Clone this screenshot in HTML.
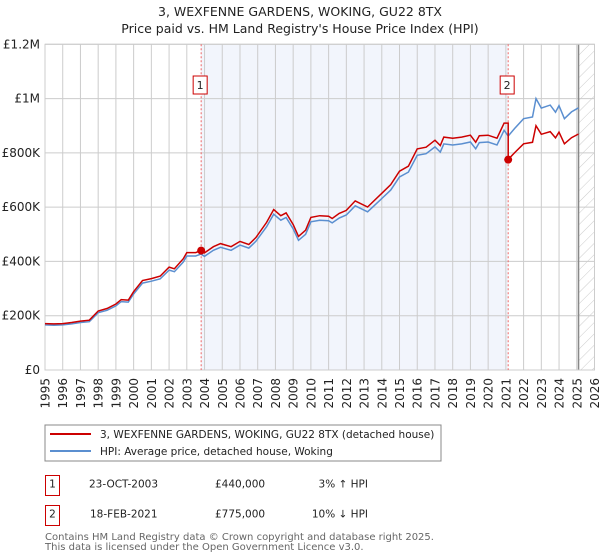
<!DOCTYPE html>
<html><head><meta charset="utf-8"><style>
body{margin:0;background:#fff;font-family:"Liberation Sans","DejaVu Sans",sans-serif;}
svg{display:block}
</style></head><body>
<svg id="chart" width="600" height="560" viewBox="0 0 600 560" font-family="DejaVu Sans, Liberation Sans, sans-serif">
<text x="300" y="16" text-anchor="middle" font-size="12.5" fill="#222">3, WEXFENNE GARDENS, WOKING, GU22 8TX</text>
<text x="300" y="33" text-anchor="middle" font-size="12.5" fill="#222">Price paid vs. HM Land Registry's House Price Index (HPI)</text>
<defs><pattern id="hatch" width="8" height="8" patternUnits="userSpaceOnUse" patternTransform="rotate(45)"><line x1="0" y1="0" x2="0" y2="8" stroke="#ccc" stroke-width="1"/></pattern></defs>
<g id="plot"></g>
<g id="legend">
<rect x="45" y="425" width="396" height="36" fill="#fff" stroke="#888" stroke-width="1"/>
<line x1="50" y1="434" x2="91" y2="434" stroke="#cc0000" stroke-width="2"/>
<text x="100" y="438" font-size="10.5" fill="#222">3, WEXFENNE GARDENS, WOKING, GU22 8TX (detached house)</text>
<line x1="50" y1="451" x2="91" y2="451" stroke="#5b8fd0" stroke-width="2"/>
<text x="100" y="455" font-size="10.5" fill="#222">HPI: Average price, detached house, Woking</text>
</g>
<g font-size="10.5" fill="#222">
<rect x="45.5" y="475.5" width="14" height="20" fill="#fff" stroke="#c00"/>
<text x="52.5" y="487.5" text-anchor="middle">1</text>
<text x="89" y="487.5">23-OCT-2003</text><text x="215" y="487.5">£440,000</text><text x="368" y="487.5" text-anchor="end">3% ↑ HPI</text>
<rect x="45.5" y="505.5" width="14" height="20" fill="#fff" stroke="#c00"/>
<text x="52.5" y="517.5" text-anchor="middle">2</text>
<text x="90" y="517.5">18-FEB-2021</text><text x="215" y="517.5">£775,000</text><text x="368" y="517.5" text-anchor="end">10% ↓ HPI</text>
</g>
<text x="45" y="540" font-size="10" fill="#666">Contains HM Land Registry data © Crown copyright and database right 2025.</text>
<text x="45" y="550" font-size="10" fill="#666">This data is licensed under the Open Government Licence v3.0.</text>
</svg>
<script>
const hpiYears=[1995,1995.5,1996,1996.5,1997,1997.5,1998,1998.5,1999,1999.3,1999.7,2000,2000.5,2001,2001.5,2002,2002.3,2002.8,2003,2003.5,2003.8,2004,2004.5,2004.9,2005.5,2006,2006.5,2006.9,2007.5,2007.9,2008.3,2008.6,2009.0,2009.3,2009.7,2010,2010.5,2011,2011.2,2011.6,2012,2012.5,2013.2,2014,2014.5,2015,2015.5,2016,2016.5,2017,2017.3,2017.5,2018,2018.5,2019,2019.3,2019.5,2020,2020.5,2020.9,2021.13,2021.5,2022,2022.5,2022.7,2023,2023.5,2023.8,2024,2024.3,2024.7,2025.1];
const hpiValues=[166,165,166,170,175,178,211,220,236,252,250,280,320,327,336,368,362,398,420,420,427,419,441,452,441,460,449,474,528,574,552,562,520,478,500,546,552,550,542,560,571,605,583,632,663,711,729,791,797,822,803,833,829,833,840,815,838,840,829,883,862,890,926,932,1000,965,976,950,974,926,951,966];
const ratioPeriods=[1995,2003.81,2021.13];
const ratioValues=[1.03,1.03,0.9];
const saleYears=[2003.81,2021.13];
const saleValues=[440,775];
const yTicks=[0,200,400,600,800,1000,1200];
const yTickLabels=["£0","£200K","£400K","£600K","£800K","£1M","£1.2M"];
const xTicks=[1995,1996,1997,1998,1999,2000,2001,2002,2003,2004,2005,2006,2007,2008,2009,2010,2011,2012,2013,2014,2015,2016,2017,2018,2019,2020,2021,2022,2023,2024,2025,2026];
const dataEndYear=2025.1;
const X0=45,X1=594.5,Y0=370,Y1=44.3;
const xs=y=>X0+(y-1995)/(2026-1995)*(X1-X0);
const ys=v=>Y0-v/1200*(Y0-Y1);
const NS="http://www.w3.org/2000/svg";
const plot=document.getElementById('plot');
function mk(t,a){const e=document.createElementNS(NS,t);for(const k in a)e.setAttribute(k,a[k]);plot.appendChild(e);return e;}
let e;
e=mk('rect',{x:xs(saleYears[0]),y:Y1,width:xs(saleYears[1])-xs(saleYears[0]),height:Y0-Y1,fill:'#f2f5fc'});


e=mk('rect',{x:xs(dataEndYear),y:Y1,width:X1-xs(dataEndYear),height:Y0-Y1,fill:'url(#hatch)'});


yTicks.forEach((t,i)=>{
 e=mk('line',{x1:X0,x2:X1,y1:ys(t),y2:ys(t),stroke:'#ccc','stroke-width':1});
 
 
 e=mk('text',{x:40,y:ys(t)+4,'text-anchor':'end','font-size':12,fill:'#222'});
 e.textContent=yTickLabels[i];
 
 
});
xTicks.forEach(t=>{
 e=mk('line',{x1:xs(t),x2:xs(t),y1:Y1,y2:Y0,stroke:'#ccc','stroke-width':1});
 
 
 const tx=xs(t)+4.5, ty=Y0+8;
 e=mk('text',{x:tx,y:ty,'text-anchor':'end','font-size':12,fill:'#222',transform:'rotate(-90 '+tx+' '+ty+')'});
 e.textContent=String(t);
 
 
});
e=mk('line',{x1:xs(dataEndYear),x2:xs(dataEndYear),y1:Y1,y2:Y0,stroke:'#888','stroke-width':1.5});


e=mk('rect',{x:X0,y:Y1,width:X1-X0,height:Y0-Y1,fill:'none',stroke:'#ccc'});


saleYears.forEach((s,i)=>{
 e=mk('line',{x1:xs(s),x2:xs(s),y1:Y1,y2:Y0,stroke:'#e66','stroke-width':1,'stroke-dasharray':'2,2'});
 
 
 e=mk('rect',{x:xs(s)-8,y:76,width:14,height:18,fill:'#fff',stroke:'#c00'});
 
 
 e=mk('text',{x:xs(s)-1,y:89,'text-anchor':'middle','font-size':11,fill:'#222'});
 e.textContent=String(i+1);
 
 
});
const hpiPts=hpiYears.map((y,i)=>xs(y).toFixed(1)+','+ys(hpiValues[i]).toFixed(1)).join(' ');
e=mk('polyline',{points:hpiPts,fill:'none',stroke:'#5b8fd0','stroke-width':1.5});


function ratioAt(y){let r=ratioValues[0];ratioPeriods.forEach((p,i)=>{if(y>=p)r=ratioValues[i];});return r;}
const redPts=[];
hpiYears.forEach((y,i)=>{
 if(y===saleYears[1]){redPts.push([y,hpiValues[i-1]*ratioValues[1]]);}
 redPts.push([y,hpiValues[i]*ratioAt(y)]);
});
e=mk('polyline',{points:redPts.map(p=>xs(p[0]).toFixed(1)+','+ys(p[1]).toFixed(1)).join(' '),fill:'none',stroke:'#cc0000','stroke-width':1.5});


saleYears.forEach((s,i)=>{
 e=mk('circle',{cx:xs(s),cy:ys(saleValues[i]),r:4,fill:'#cc0000'});
 
 
});
</script>
</body></html>
